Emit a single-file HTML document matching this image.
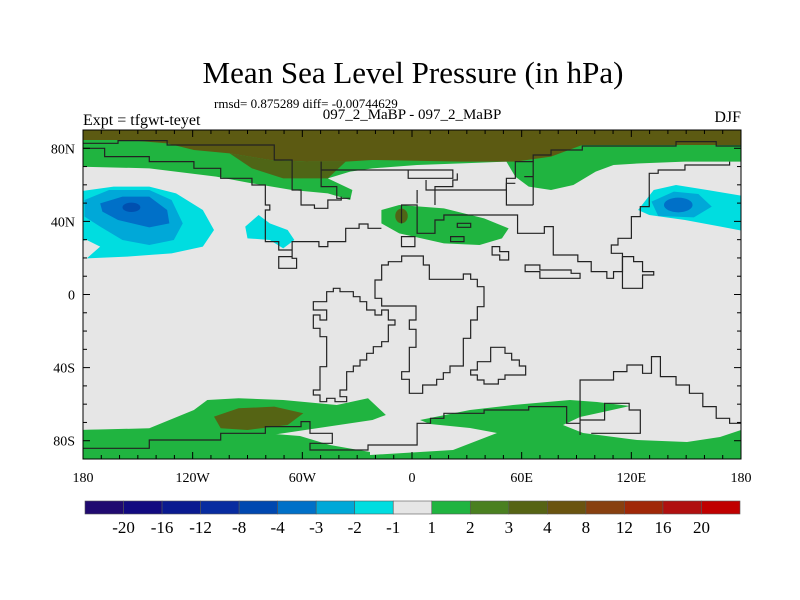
<!DOCTYPE html>
<html><head><meta charset="utf-8"><style>
body{margin:0;background:#fff;}
svg{display:block;font-family:"Liberation Serif",serif;}
</style></head><body>
<svg id="chart" width="800" height="600" viewBox="0 0 800 600">
<rect width="800" height="600" fill="#fff"/>
<text x="413" y="83" text-anchor="middle" font-size="31">Mean Sea Level Pressure (in hPa)</text>
<text x="214" y="108" font-size="13">rmsd= 0.875289 diff= -0.00744629</text>
<text x="412" y="119" text-anchor="middle" font-size="15">097_2_MaBP - 097_2_MaBP</text>
<text x="83" y="125" font-size="16">Expt = tfgwt-teyet</text>
<text x="741" y="122" text-anchor="end" font-size="16">DJF</text>
<defs><clipPath id="pc"><rect x="83" y="130" width="658" height="329"/></clipPath></defs>
<g clip-path="url(#pc)">
<rect x="83" y="130" width="658" height="329" fill="#e6e6e6"/>
<path fill="#20b440" d="M83,430 L200,428 L300,436 L330,445 L370,452 L370,460 L83,460Z"/>
<path fill="#20b440" d="M420,420 L470,410 L513,405 L570,400 L597,402 L630,406 L603,412 L580,417 L563,425 L583,433 L637,440 L687,442 L720,437 L741,430 L741,460 L370,460 L370,455 L453,450 L497,433 L470,428 L430,424Z"/>
<g transform="translate(60,90) scale(0.4464,0.3333)">
<path fill="#20b440" d="M40,110 L1540,110 L1540,215 L1400,215 L1300,220 L1240,225 L1200,245 L1150,285 L1100,300 L1050,290 L1020,260 L1000,215 L900,220 L800,225 L700,235 L650,245 L600,265 L655,300 L650,330 L600,310 L520,300 L430,280 L350,260 L200,235 L40,230Z"/>
<path fill="#5c5a12" d="M40,110 L1540,110 L1540,165 L1170,165 L1100,200 L1020,215 L900,215 L700,210 L640,215 L560,215 L470,210 L380,190 L300,180 L240,160 L150,150 L40,150Z"/>
<path fill="#4f6516" d="M380,190 L470,210 L560,215 L640,215 L600,265 L500,265 L430,235Z"/>
<path fill="#00dde0" d="M40,305 L120,290 L200,290 L260,310 L320,360 L345,420 L320,470 L250,490 L150,500 L60,505 L90,470 L60,450 L40,455Z"/>
<path fill="#00a8d8" d="M55,330 L110,300 L200,300 L250,330 L275,400 L255,450 L200,465 L140,450 L90,410 L55,380Z"/>
<path fill="#0070c8" d="M90,340 L140,320 L200,320 L240,360 L245,400 L200,412 L130,390 L95,365Z"/>
<ellipse cx="160" cy="352" rx="20" ry="14" fill="#0050b0"/>
<path fill="#00dde0" d="M415,410 L445,375 L470,400 L510,420 L525,450 L500,475 L470,450 L420,445Z"/>
<path fill="#00dde0" d="M1295,360 L1330,300 L1380,285 L1450,300 L1540,320 L1540,425 L1480,410 L1400,390 L1320,375Z"/>
<path fill="#00a8d8" d="M1325,335 L1375,305 L1430,312 L1460,350 L1420,382 L1340,378Z"/>
<ellipse cx="1385" cy="345" rx="32" ry="22" fill="#0070c8"/>
<path fill="#20b440" d="M720,360 L760,345 L860,355 L950,385 L1005,415 L990,445 L940,465 L860,460 L760,430 L720,400Z"/>
<ellipse cx="765" cy="378" rx="14" ry="22" fill="#4f6516"/>
<path fill="#20b440" d="M40,1020 L200,1015 L300,960 L330,930 L400,925 L500,930 L620,945 L690,925 L730,975 L700,990 L600,1010 L500,1030 L400,1050 L300,1075 L40,1080Z"/>
<path fill="#556414" d="M345,980 L400,955 L480,950 L545,970 L510,1005 L420,1020 L360,1015Z"/>
<g fill="none" stroke="#222" stroke-width="1.2">
<path vector-effect="non-scaling-stroke" d="M52,160 L130,160 L130,152 L240,152 L240,165 L480,165 L480,210 L520,210 L520,300 L540,300 L540,345 L570,345 L570,355 L600,355 L600,330 L630,330 L630,320"/>
<path vector-effect="non-scaling-stroke" d="M52,175 L100,175 L100,200 L200,200 L200,215 L300,215 L300,235 L360,235 L360,265 L430,265 L430,285 L460,285 L460,345 L470,345 L470,360 L460,360 L460,455 L490,455 L490,480 L520,480 L520,500 L490,500 L490,535 L530,535 L530,505 L520,505 L520,455 L540,455 L540,455 L580,455 L580,470 L600,470 L600,455 L640,455 L640,415 L670,415 L670,402 L690,402 L690,415 L720,415"/>
<path vector-effect="non-scaling-stroke" d="M585,215 L585,290 L620,290 L620,325 L650,325 M585,240 L700,240 L780,240 L780,265 L880,265 L880,240 L780,240 M820,270 L820,300 L1000,300 L1000,265 L1020,265 L1020,215 L1060,215 L1060,195 L1100,195 L1100,180 L1170,180 L1170,168 L1380,168 L1380,155 L1470,155 L1470,168 L1527,168"/>
<path vector-effect="non-scaling-stroke" d="M800,340 L800,300 M840,345 L840,290 L880,290 L880,270 L890,270 L890,250 M1060,215 L1060,345 M1020,280 L1000,280 L1000,345 L1060,345 M1040,260 L1060,260"/>
<path vector-effect="non-scaling-stroke" d="M765,400 L765,345 L800,345 L800,430 L840,430 L840,390 L860,390 L860,375 L1025,375 L1025,430 L1085,430 L1085,410 L1105,410 L1105,495 L1160,495 L1160,515 L1190,515 L1190,545 L1225,545 L1225,565 L1240,565 L1240,545 L1260,545 L1260,490 L1235,490 L1235,465 L1250,465 L1250,445 L1280,445 L1280,380 L1300,380 L1300,350 L1320,350 L1320,250 L1340,250 L1340,240 L1400,240 L1400,225 L1500,225 L1500,215"/>
<path vector-effect="non-scaling-stroke" d="M765,440 L765,470 L795,470 L795,440Z M890,400 L920,400 L920,412 L890,412Z M875,440 L905,440 L905,455 L875,455Z M968,470 L985,470 L985,485 L1005,485 L1005,510 L985,510 L985,495 L968,495Z"/>
<path vector-effect="non-scaling-stroke" d="M1042,525 L1075,525 L1075,540 L1145,540 L1145,550 L1165,550 L1165,565 L1075,565 L1075,545 L1042,545Z M1260,595 L1260,500 L1285,500 L1285,515 L1305,515 L1305,545 L1330,545 L1330,555 L1305,555 L1305,595Z"/>
<path vector-effect="non-scaling-stroke" d="M1165,1035 L1165,870 L1240,870 L1240,845 L1270,845 L1270,825 L1305,825 L1305,850 L1325,850 L1325,800 L1345,800 L1345,860 L1380,860 L1380,885 L1410,885 L1410,910 L1440,910 L1440,950 L1470,950 L1470,985 L1500,985 L1500,1000 L1527,1000"/>
<path vector-effect="non-scaling-stroke" d="M1190,1030 L1300,1030 L1300,960 L1275,960 L1275,940 L1220,940 L1220,990 L1165,990"/>
<path vector-effect="non-scaling-stroke" d="M52,1075 L200,1075 L200,1050 L360,1050 L360,1030 L460,1030 L460,1010 L540,1010 L540,995 L560,995 L560,1030 L610,1030 L610,1060 L560,1060 L560,1080 L690,1080 L690,1065 L800,1065 L800,1000 L830,1000 L830,985 L860,985 L860,970 L950,970 L950,960 L1050,960 L1050,950 L1135,950 L1135,1000 L1165,1000"/>
</g>
</g>
<g transform="translate(280,240) scale(0.33333)" fill="none" stroke="#222">
<path vector-effect="non-scaling-stroke" stroke-width="1.2" d="M100,185 L140,185 L140,155 L160,155 L160,145 L180,145 L180,155 L220,155 L220,170 L240,170 L240,185 L260,185 L260,210 L285,210 L285,225 L305,225 L305,210 L325,210 L325,240 L345,240 L345,255 L325,255 L325,305 L305,305 L305,320 L280,320 L280,340 L260,340 L260,360 L240,360 L240,378 L220,378 L220,395 L200,395 L200,450 L180,450 L180,470 L200,470 L200,485 L165,485 L165,475 L140,475 L140,485 L120,485 L120,465 L100,465 L100,450 L120,450 L120,380 L140,380 L140,290 L120,290 L120,265 L100,265 L100,225 L120,225 L120,240 L140,240 L140,210 L100,210Z"/>
<path vector-effect="non-scaling-stroke" stroke-width="1.2" d="M285,120 L305,120 L305,75 L325,75 L325,65 L365,65 L365,48 L430,48 L430,75 L448,75 L448,118 L550,118 L550,102 L572,102 L572,118 L592,118 L592,140 L612,140 L612,200 L592,200 L592,240 L572,240 L572,295 L550,295 L550,378 L510,378 L510,398 L490,398 L490,418 L470,418 L470,435 L428,435 L428,460 L388,460 L388,418 L365,418 L365,395 L388,395 L388,322 L408,322 L408,268 L388,268 L388,240 L408,240 L408,198 L305,198 L305,175 L285,175Z"/>
<path vector-effect="non-scaling-stroke" stroke-width="1.2" d="M592,365 L632,365 L632,322 L675,322 L675,340 L695,340 L695,360 L718,360 L718,378 L737,378 L737,405 L675,405 L675,418 L655,418 L655,432 L612,432 L612,420 L592,420 L592,405 L572,405 L572,390 L592,390Z"/>
</g>
</g>
<rect x="83" y="130" width="658" height="329" fill="none" stroke="#000" stroke-width="1"/>
<g id="axes"></g>
<g id="colorbar"></g>
<script>
const colorbarColors=["#200a70","#120a80","#0a1a90","#082ca0","#0048b0","#0070c8","#00a8d8","#00dde0","#e6e6e6","#20b440","#4a8020","#566414","#6a5410","#884010","#a02808","#b01010","#c00000"];
const colorbarLevels=["-20","-16","-12","-8","-4","-3","-2","-1","1","2","3","4","8","12","16","20"];
const lonTicks=[-180,-120,-60,0,60,120,180];
const lonTickLabels=["180","120W","60W","0","60E","120E","180"];
const latTicks=[80,40,0,-40,-80];
const latTickLabels=["80N","40N","0","40S","80S"];
const NS="http://www.w3.org/2000/svg";
function xLon(lon){return 83+(lon+180)*658/360;}
function yLat(lat){return 294.5-lat*329/180;}
function mk(tag,attrs,parent){const e=document.createElementNS(NS,tag);for(const k in attrs)e.setAttribute(k,attrs[k]);parent.appendChild(e);return e;}
const ax=document.getElementById('axes');
for(let lon=-180;lon<=180;lon+=10){
  const x=xLon(lon),major=lon%60===0,len=major?7:4;
  const t1=mk('line',{x1:x,x2:x,y1:459,y2:459-len,stroke:'#000','stroke-width':1},ax);
  
  
  const t2=mk('line',{x1:x,x2:x,y1:130,y2:130+len,stroke:'#000','stroke-width':1},ax);
  
  
}
for(let lat=-90;lat<=90;lat+=10){
  const y=yLat(lat),major=lat%40===0,len=major?7:4;
  const t1=mk('line',{x1:83,x2:83+len,y1:y,y2:y,stroke:'#000','stroke-width':1},ax);
  
  
  const t2=mk('line',{x1:741,x2:741-len,y1:y,y2:y,stroke:'#000','stroke-width':1},ax);
  
  
}
lonTicks.forEach((lon,i)=>{
  const t=mk('text',{x:xLon(lon),y:482,'text-anchor':'middle','font-size':14},ax);
  t.textContent=lonTickLabels[i];
  
  
});
latTicks.forEach((lat,i)=>{
  const t=mk('text',{x:75,y:yLat(lat)+5,'text-anchor':'end','font-size':14},ax);
  t.textContent=latTickLabels[i];
  
  
});
const cb=document.getElementById('colorbar');
const cbX=85,cbW=655,cbY=501,cbH=13,bw=cbW/colorbarColors.length;
colorbarColors.forEach((c,i)=>{
  const r=mk('rect',{x:cbX+i*bw,y:cbY,width:bw,height:cbH,fill:c,stroke:'#555','stroke-width':0.6},cb);
  
  
});
colorbarLevels.forEach((l,i)=>{
  const t=mk('text',{x:cbX+(i+1)*bw,y:533,'text-anchor':'middle','font-size':17},cb);
  t.textContent=l;
  
  
});
</script>
</svg>
</body></html>
